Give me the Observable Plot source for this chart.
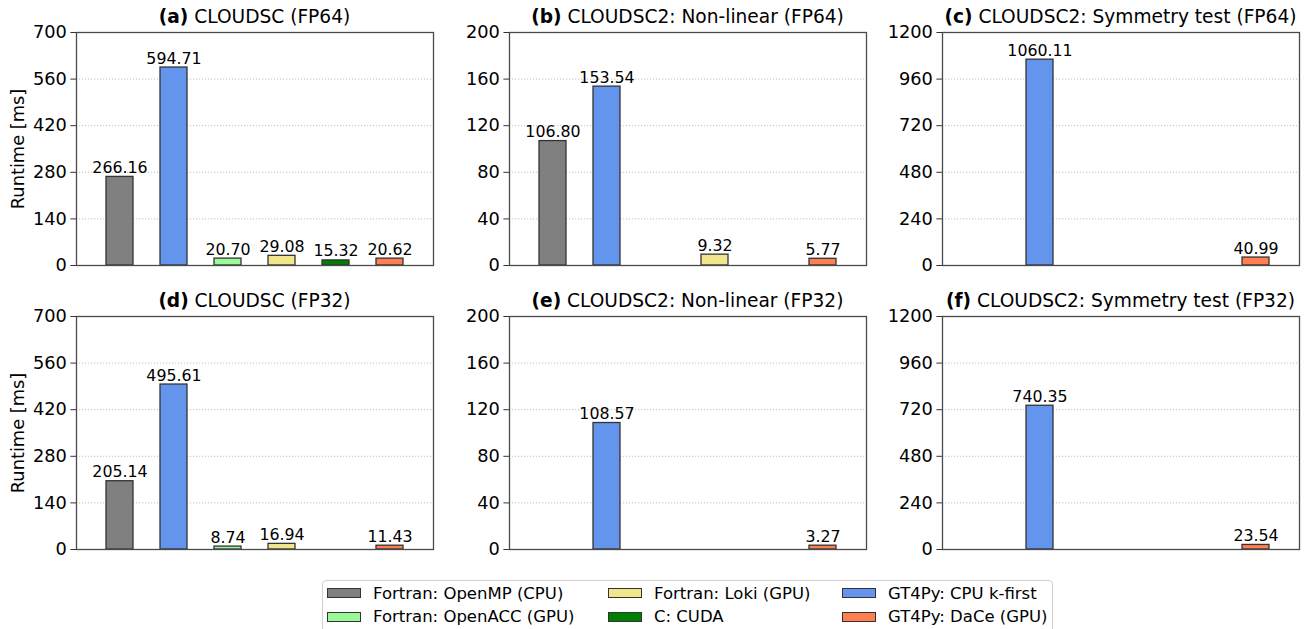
<!DOCTYPE html>
<html><head><meta charset="utf-8">
<script src="https://cdn.jsdelivr.net/npm/d3@7"></script>
<script src="https://cdn.jsdelivr.net/npm/@observablehq/plot@0.6"></script>
<style>
body{margin:0;background:#fff;font-family:"DejaVu Sans",sans-serif;}
#root{position:relative;width:1309px;height:629px;overflow:hidden;background:#fff;}
.title{position:absolute;text-align:center;font-size:18.6px;line-height:24px;white-space:nowrap;color:#000;}
.panel{position:absolute;}
#legend{position:absolute;left:322px;top:580px;width:731px;height:60px;border:1px solid #d0d0d0;border-radius:4px;box-sizing:border-box;}
.item{position:absolute;height:20px;display:flex;align-items:center;font-size:16.5px;white-space:nowrap;color:#000;}
.sw{width:34px;height:10px;border:1px solid #333;box-sizing:border-box;margin-right:12px;flex:none;}
</style></head><body><div id="root"></div>
<script>
// ---- data ----
const categories = ["Fortran: OpenMP (CPU)", "GT4Py: CPU k-first", "Fortran: OpenACC (GPU)", "Fortran: Loki (GPU)", "C: CUDA", "GT4Py: DaCe (GPU)"];
const colors = ["#808080", "#6495ED", "#98FB98", "#F0E68C", "#008000", "#FF7F50"];
const legendOrder = ["Fortran: OpenMP (CPU)", "Fortran: OpenACC (GPU)", "Fortran: Loki (GPU)", "C: CUDA", "GT4Py: CPU k-first", "GT4Py: DaCe (GPU)"];

const panelLetters = ["(a)", "(b)", "(c)", "(d)", "(e)", "(f)"];
const panelNames = ["CLOUDSC (FP64)", "CLOUDSC2: Non-linear (FP64)", "CLOUDSC2: Symmetry test (FP64)",
                    "CLOUDSC (FP32)", "CLOUDSC2: Non-linear (FP32)", "CLOUDSC2: Symmetry test (FP32)"];

const valuesA = [266.16, 594.71, 20.70, 29.08, 15.32, 20.62];
const valuesB = [106.80, 153.54, null, 9.32, null, 5.77];
const valuesC = [null, 1060.11, null, null, null, 40.99];
const valuesD = [205.14, 495.61, 8.74, 16.94, null, 11.43];
const valuesE = [null, 108.57, null, null, null, 3.27];
const valuesF = [null, 740.35, null, null, null, 23.54];

const ticksCloudsc = [0, 140, 280, 420, 560, 700];
const ticksNonLinear = [0, 40, 80, 120, 160, 200];
const ticksSymmetry = [0, 240, 480, 720, 960, 1200];
const yLabel = "Runtime [ms]";

// ---- layout ----
const root = document.getElementById("root");
const panelValues = [valuesA, valuesB, valuesC, valuesD, valuesE, valuesF];
const panelTicks = [ticksCloudsc, ticksNonLinear, ticksSymmetry, ticksCloudsc, ticksNonLinear, ticksSymmetry];
const plotLefts = [76, 509, 942];
const plotTops = [32, 316];
const plotW = 357, plotH = 233;

panelValues.forEach((vals, i) => {
  const col = i % 3, row = Math.floor(i / 3);
  const ticks = panelTicks[i];
  const data = categories.map((c, j) => ({cat: c, value: vals[j]})).filter(d => d.value != null);
  const mL = col === 0 ? 76 : 72, mT = 12, mB = 14, mR = 6;
  const chart = Plot.plot({
    width: plotW + mL + mR,
    height: plotH + mT + mB,
    marginLeft: mL, marginRight: mR, marginTop: mT, marginBottom: mB,
    style: {fontFamily: "DejaVu Sans", color: "#000", background: "transparent", overflow: "visible"},
    x: {domain: categories, padding: 0.5, axis: null},
    y: {domain: [0, ticks[ticks.length - 1]], label: null, axis: null},
    color: {domain: categories, range: colors},
    marks: [
      Plot.ruleY(ticks.slice(1, -1), {stroke: "#b8b8b8", strokeWidth: 0.9, strokeDasharray: "1.2,1.8"}),
      Plot.barY(data, {x: "cat", y: "value", fill: "cat", stroke: "#333", strokeWidth: 1.3}),
      Plot.text(data, {x: "cat", y: "value", text: d => d.value.toFixed(2), lineAnchor: "bottom", dy: -4, fontSize: 15.8, fill: "#000"}),
      Plot.axisY(ticks, {anchor: "left", tickSize: 5.6, tickPadding: 4, fontSize: 17.8, stroke: "#333",
        tickFormat: d => String(d),
        label: col === 0 ? yLabel : null, labelAnchor: "center", labelArrow: "none", labelOffset: 65}),
      Plot.frame({stroke: "#4a4a4a", strokeWidth: 1.3})
    ]
  });
  chart.classList.add("panel");
  chart.style.left = (plotLefts[col] - mL) + "px";
  chart.style.top = (plotTops[row] - mT) + "px";
  root.appendChild(chart);

  const t = document.createElement("div");
  t.className = "title";
  t.style.left = (plotLefts[col] - 20) + "px";
  t.style.width = (plotW + 40) + "px";
  t.style.top = (plotTops[row] - 26.6) + "px";
  const b = document.createElement("b");
  b.textContent = panelLetters[i];
  t.appendChild(b);
  t.appendChild(document.createTextNode(" " + panelNames[i]));
  root.appendChild(t);
});

// ---- legend ----
const legend = document.createElement("div");
legend.id = "legend";
root.appendChild(legend);
const colLefts = [327, 608, 842];
const rowCenters = [593, 616.5];
legendOrder.forEach((name, k) => {
  const col = Math.floor(k / 2), row = k % 2;
  const it = document.createElement("div");
  it.className = "item";
  it.style.left = (colLefts[col] - 322 - 1) + "px";
  it.style.top = (rowCenters[row] - 10 - 580 - 1) + "px";
  const sw = document.createElement("div");
  sw.className = "sw";
  sw.style.background = colors[categories.indexOf(name)];
  it.appendChild(sw);
  const tx = document.createElement("span");
  tx.textContent = name;
  it.appendChild(tx);
  legend.appendChild(it);
});
</script></body></html>
